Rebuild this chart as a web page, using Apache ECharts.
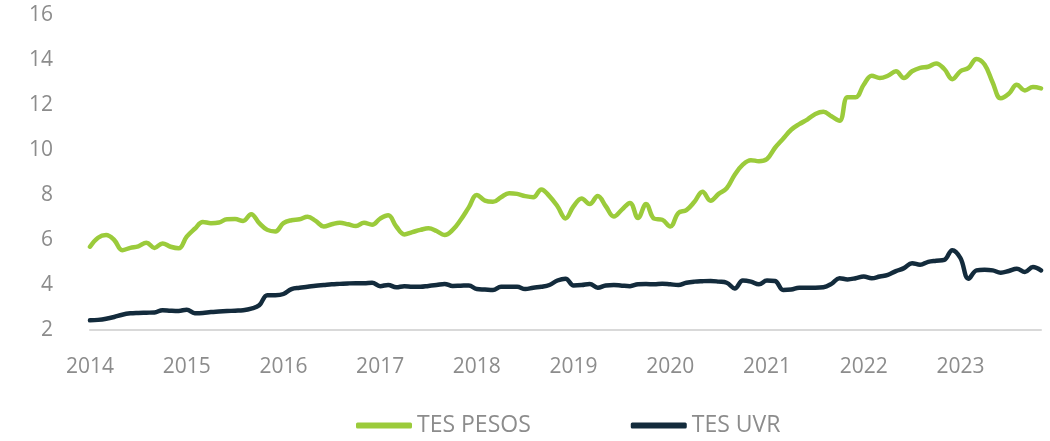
<!DOCTYPE html>
<html>
<head>
<meta charset="utf-8">
<script src="https://cdn.jsdelivr.net/npm/echarts@6/dist/echarts.min.js"></script>
<style>
  html, body { margin: 0; padding: 0; background: #fff; }
  #chart { width: 1050px; height: 441px; }
</style>
</head>
<body>
<div id="chart"></div>
<script>
// monthly points, Jan 2014 .. Nov 2023
const startYear = 2014;
const monthCount = 119;
const categories = [];
for (let i = 0; i < monthCount; i++) {
  const y = startYear + Math.floor(i / 12);
  const m = (i % 12) + 1;
  categories.push(y + "-" + (m < 10 ? "0" + m : m));
}

const tesPesos = [
  5.70, 6.10, 6.22, 6.00, 5.55, 5.65, 5.72, 5.88, 5.65, 5.85, 5.70, 5.63,
  6.15, 6.50, 6.80, 6.75, 6.78, 6.92, 6.93, 6.85, 7.15, 6.75, 6.45, 6.38,
  6.75, 6.88, 6.92, 7.03, 6.85, 6.60, 6.70, 6.77, 6.70, 6.62, 6.77, 6.68,
  6.95, 7.10, 6.60, 6.25, 6.35, 6.45, 6.52, 6.40, 6.22, 6.45, 6.90, 7.45,
  8.00, 7.75, 7.70, 7.90, 8.08, 8.05, 7.95, 7.90, 8.25, 7.95, 7.50, 6.96,
  7.50, 7.85, 7.60, 7.96, 7.50, 7.04, 7.35, 7.65, 6.98, 7.60, 6.95, 6.90,
  6.60, 7.20, 7.33, 7.70, 8.15, 7.75, 8.05, 8.30, 8.90, 9.35, 9.55, 9.50,
  9.60, 10.10, 10.50, 10.90, 11.15, 11.35, 11.60, 11.70, 11.50, 11.30, 12.35, 12.35,
  12.90, 13.30, 13.20, 13.30, 13.50, 13.20, 13.50, 13.65, 13.70, 13.85, 13.60, 13.15,
  13.50, 13.65, 14.05, 13.80, 13.00, 12.30, 12.50, 12.90, 12.65, 12.80, 12.74
];

const tesUvr = [
  2.43, 2.45, 2.50, 2.58, 2.68, 2.74, 2.76, 2.77, 2.78, 2.88, 2.86, 2.85,
  2.90, 2.75, 2.76, 2.80, 2.82, 2.84, 2.86, 2.88, 2.95, 3.10, 3.55, 3.55,
  3.60, 3.82, 3.88, 3.92, 3.97, 4.00, 4.03, 4.05, 4.07, 4.08, 4.08, 4.10,
  3.95, 4.00, 3.90, 3.95, 3.92, 3.92, 3.96, 4.00, 4.05, 3.96, 3.97, 3.98,
  3.82, 3.80, 3.78, 3.92, 3.92, 3.92, 3.82, 3.88, 3.92, 4.00, 4.20, 4.28,
  3.98, 4.00, 4.05, 3.88, 3.98, 4.00, 3.97, 3.95, 4.03, 4.04, 4.03, 4.06,
  4.03, 4.00, 4.10, 4.15, 4.17, 4.18, 4.15, 4.10, 3.85, 4.20, 4.15, 4.03,
  4.20, 4.18, 3.78, 3.80, 3.88, 3.88, 3.88, 3.90, 4.05, 4.30, 4.25, 4.30,
  4.38, 4.30, 4.38, 4.45, 4.62, 4.75, 4.97, 4.90, 5.03, 5.08, 5.12, 5.55,
  5.20, 4.28, 4.65, 4.68, 4.65, 4.55, 4.62, 4.72, 4.58, 4.80, 4.65
];

const seriesNames = ["TES PESOS", "TES UVR"];
const colors = ["#9BCB3B", "#132B3C"];
const labelColor = "#8C8C8C";

const chart = echarts.init(document.getElementById("chart"));

chart.setOption({
  animation: false,
  color: colors,
  textStyle: { fontFamily: "Open Sans, sans-serif" },
  grid: {
    left: 90,
    right: 9,
    top: 15,
    bottom: 111,
    containLabel: false
  },
  legend: {
    data: seriesNames,
    top: 409,
    left: 351,
    icon: "roundRect",
    itemWidth: 56,
    itemHeight: 6,
    itemGap: 100,
    textStyle: { fontSize: 23, color: labelColor }
  },
  xAxis: {
    type: "category",
    data: categories,
    boundaryGap: false,
    axisLine: { lineStyle: { color: "#D9D9D9", width: 2 } },
    axisTick: { show: false },
    axisLabel: {
      color: labelColor,
      fontSize: 21,
      margin: 27,
      interval: (idx) => idx % 12 === 0,
      formatter: (v) => v.slice(0, 4)
    },
    splitLine: { show: false }
  },
  yAxis: {
    type: "value",
    min: 2,
    max: 16,
    interval: 2,
    axisLine: { show: false },
    axisTick: { show: false },
    splitLine: { show: false },
    axisLabel: { color: labelColor, fontSize: 21, margin: 37 }
  },
  series: [
    {
      name: seriesNames[0],
      type: "line",
      data: tesPesos,
      smooth: 0.4,
      showSymbol: false,
      lineStyle: { width: 4.5, color: colors[0], cap: "round" }
    },
    {
      name: seriesNames[1],
      type: "line",
      data: tesUvr,
      smooth: 0.4,
      showSymbol: false,
      lineStyle: { width: 4.5, color: colors[1], cap: "round" }
    }
  ]
});
</script>
</body>
</html>
